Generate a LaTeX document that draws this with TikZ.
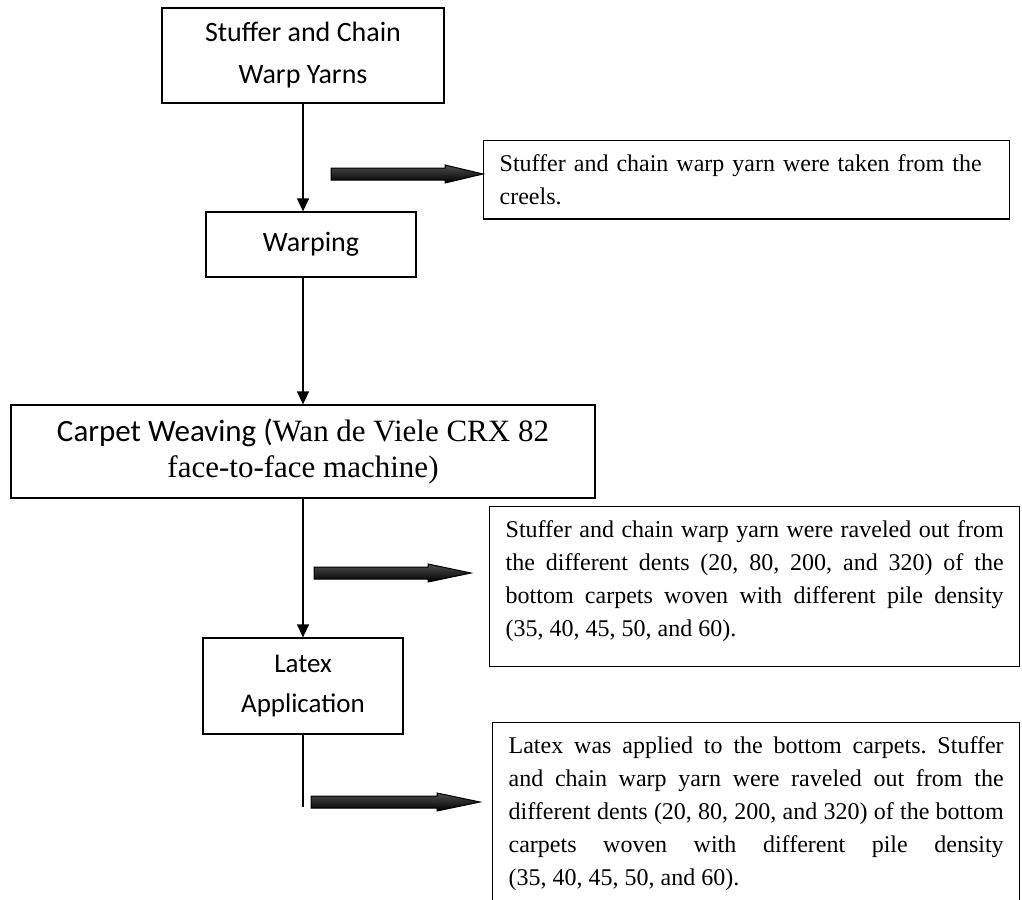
\documentclass[tikz,border=0pt]{standalone}
\usepackage{fontspec}
\setmainfont{Liberation Serif}
\newfontfamily\calibri{Carlito}
\usetikzlibrary{arrows.meta, calc}
\frenchspacing

\tikzset{
  stepbox/.style={draw, line width=1.3pt, align=center, inner sep=0pt,
    font=\calibri\fontsize{28}{42}\selectfont},
  notebox/.style={draw, line width=1.3pt, anchor=north west, align=justify,
    inner xsep=16pt, inner ysep=14pt, font=\fontsize{24}{33}\selectfont},
  flow/.style={line width=1.3pt, -{Triangle[length=13pt, width=12pt]}},
}

% block arrow with a drop shadow: tail, tip, head length
\newcommand{\fatarrow}[3]{%
  \fill[gray!60, xshift=3pt, yshift=-4pt] let \p1=(#1), \p2=(#2) in
    (\x1,\y1+6pt) -- (\x2-#3,\y1+6pt) -- (\x2-#3,\y1+9pt) -- (\x2,\y1)
    -- (\x2-#3,\y1-9pt) -- (\x2-#3,\y1-6pt) -- (\x1,\y1-6pt) -- cycle;
  \shade[draw=black, line width=1pt, top color=black!70, bottom color=black]
    let \p1=(#1), \p2=(#2) in
    (\x1,\y1+6pt) -- (\x2-#3,\y1+6pt) -- (\x2-#3,\y1+9pt) -- (\x2,\y1)
    -- (\x2-#3,\y1-9pt) -- (\x2-#3,\y1-6pt) -- (\x1,\y1-6pt) -- cycle;
}

\begin{document}
\begin{tikzpicture}[x=1pt, y=-1pt]
  \clip (0,0) rectangle (1022,899);
  \fill[white] (0,0) rectangle (1022,899);

  % Process steps
  \node[stepbox, minimum width=282, minimum height=95] (stuffer) at (303,55.5)
    {Stuffer and Chain\\Warp Yarns};
  \node[stepbox, minimum width=210, minimum height=65] (warping) at (311,244.5)
    {Warping};
  \node[stepbox, font=\fontsize{31}{36}\selectfont, minimum width=584,
    minimum height=93] (weaving) at (303,451.5)
    {{\calibri\fontsize{31}{36}\selectfont Carpet Weaving (}Wan de Viele CRX 82\\
     face-to-face machine)};
  \node[stepbox, font=\calibri\fontsize{27}{40}\selectfont, minimum width=200,
    minimum height=96] (latexapp) at (303,686)
    {Latex\\Application};

  % Notes
  \node[notebox, align=left, text width=494] (note1) at (483,140)
    {Stuffer and chain warp yarn were taken from the\\creels.};
  \node[notebox, text width=498] (note2) at (489,506)
    {Stuffer and chain warp yarn were raveled out from\linebreak
     the different dents (20, 80, 200, and 320) of the\linebreak
     bottom carpets woven with different pile density\linebreak
     (35, 40, 45, 50, and 60).\rule[-16pt]{0pt}{16pt}};
  \node[notebox, text width=495] (note3) at (492,722)
    {Latex was applied to the bottom carpets. Stuffer\linebreak
     and chain warp yarn were raveled out from the\linebreak
     different dents (20, 80, 200, and 320) of the bottom\linebreak
     carpets woven with different pile density\linebreak
     (35, 40, 45, 50, and 60).\rule[-60pt]{0pt}{60pt}};

  % Connectors
  \coordinate (lend) at (303,807);
  \draw[flow] (stuffer.south) -- (stuffer.south |- warping.north);
  \draw[flow] (weaving.north |- warping.south) -- (weaving.north);
  \draw[flow] (weaving.south) -- (latexapp.north);
  \draw[line width=1.3pt] (latexapp.south) -- (lend);

  % Block arrows
  \coordinate (t1) at (331,174);
  \coordinate (t2) at (314,573);
  \coordinate (h2) at (471,573);
  \coordinate (t3) at (311,802);
  \coordinate (h3) at (480,802);
  \fatarrow{t1}{t1 -| note1.west}{38pt}
  \fatarrow{t2}{h2}{43pt}
  \fatarrow{t3}{h3}{43pt}
\end{tikzpicture}
\end{document}
